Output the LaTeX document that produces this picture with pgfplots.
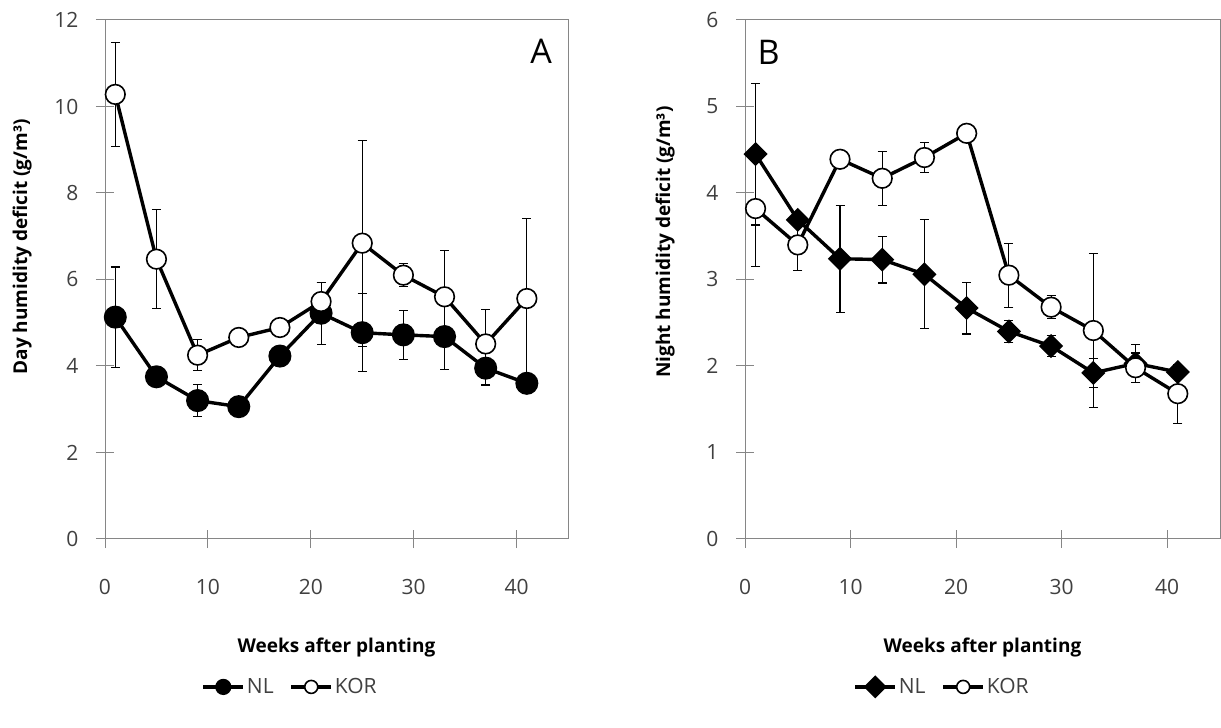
\documentclass[border=0pt]{standalone}
\usepackage{fontspec}
\setmainfont{Open Sans}
\usepackage{pgfplots}
\pgfplotsset{compat=1.18}

\definecolor{axgray}{HTML}{868686}
\definecolor{txtgray}{HTML}{404040}

\pgfplotsset{
  humid/.style={
    scale only axis, height=519pt,
    xmin=0, xmax=45, xtick={0,10,20,30,40},
    axis line style={draw=axgray, line width=1pt},
    xtick pos=bottom, ytick pos=left,
    tick align=center, major tick length=18pt,
    tick style={draw=axgray, line width=1pt},
    /pgf/number format/assume math mode=true,
    ticklabel style={font=\fontsize{21}{24}\selectfont, text=txtgray},
    xticklabel style={yshift=-28pt},
    yticklabel style={xshift=-14pt},
    label style={font=\fontsize{19}{22}\selectfont\bfseries, text=black},
    xlabel={Weeks after planting},
    xlabel style={at={(0.5,-0.21)}, anchor=center},
    legend style={draw=none, fill=none, font=\fontsize{21}{24}\selectfont,
      text=txtgray, legend columns=2, anchor=center,
      /tikz/every even column/.append style={column sep=14pt},
      /tikz/every odd column/.append style={column sep=0pt}},
    legend cell align=left,
    legend image code/.code={%
      \draw[mark repeat=2, mark phase=2, #1, mark size=6.5pt, line width=3.2pt]
        plot coordinates {(0pt,0pt) (20pt,0pt) (40pt,0pt)};},
  },
  series/.style={black, mark size=9.8pt,
    error bars/y dir=both, error bars/y explicit,
    error bars/error bar style={draw=black, line width=1.1pt, solid},
    error bars/error mark options={rotate=90, draw=black, mark size=4.5pt, line width=1.1pt}},
}

\begin{document}
\begin{tikzpicture}
\useasboundingbox (0,0) rectangle (1221pt,728pt);

% Panel A: day humidity deficit
\begin{axis}[humid, at={(105pt,189pt)}, anchor=south west, width=463pt,
  ymin=0, ymax=12, ytick={0,2,...,12},
  ylabel={Day humidity deficit (g/m³)},
  ylabel style={at={(-0.179,0.563)}, anchor=center},
  legend style={at={(0.40,-0.285)}}]
\addplot[series, mark=*, mark options={fill=black}, line width=3.4pt]
  table[x=x, y=y, y error=e] {
x y e
1 5.13 1.16
5 3.75 0.12
9 3.20 0.37
13 3.06 0.10
17 4.23 0.12
21 5.22 0.72
25 4.77 0.90
29 4.72 0.56
33 4.68 0.77
37 3.95 0.39
41 3.60 0.10
};
\addlegendentry{NL}
\addplot[series, mark=*, mark options={fill=white, line width=1.6pt}, line width=3.4pt]
  table[x=x, y=y, y error=e] {
x y e
1 10.28 1.20
5 6.47 1.15
9 4.25 0.36
13 4.66 0.12
17 4.89 0.12
21 5.49 0.45
25 6.84 2.38
29 6.10 0.27
33 5.60 1.08
37 4.51 0.80
41 5.56 1.84
};
\addlegendentry{KOR}
\node[font=\fontsize{34}{38}\selectfont, anchor=center] at (rel axis cs:0.942,0.940) {A};
\end{axis}

% Panel B: night humidity deficit
\begin{axis}[humid, at={(745pt,189pt)}, anchor=south west, width=475pt,
  ymin=0, ymax=6, ytick={0,1,...,6},
  ylabel={Night humidity deficit (g/m³)},
  ylabel style={at={(-0.168,0.572)}, anchor=center},
  legend style={at={(0.415,-0.285)}}]
\addplot[series, mark=square*, mark size=6.8pt,
  mark options={fill=black, rotate=45}, line width=3.4pt]
  table[x=x, y=y, y error=e] {
x y e
1 4.45 0.82
5 3.69 0.08
9 3.24 0.62
13 3.23 0.27
17 3.06 0.63
21 2.67 0.30
25 2.40 0.13
29 2.23 0.12
33 1.92 0.17
37 2.03 0.22
41 1.93 0.05
};
\addlegendentry{NL}
\addplot[series, mark=*, line width=3.4pt,
  mark options={fill=white, line width=1.6pt}]
  table[x=x, y=y, y error=e] {
x y e
1 3.82 0.67
5 3.40 0.30
9 4.39 0.10
13 4.17 0.31
17 4.41 0.17
21 4.69 0.08
25 3.05 0.37
29 2.68 0.13
33 2.41 0.89
37 1.98 0.17
41 1.68 0.34
};
\addlegendentry{KOR}
\node[font=\fontsize{34}{38}\selectfont, anchor=center] at (rel axis cs:0.05,0.938) {B};
\end{axis}
\end{tikzpicture}
\end{document}
